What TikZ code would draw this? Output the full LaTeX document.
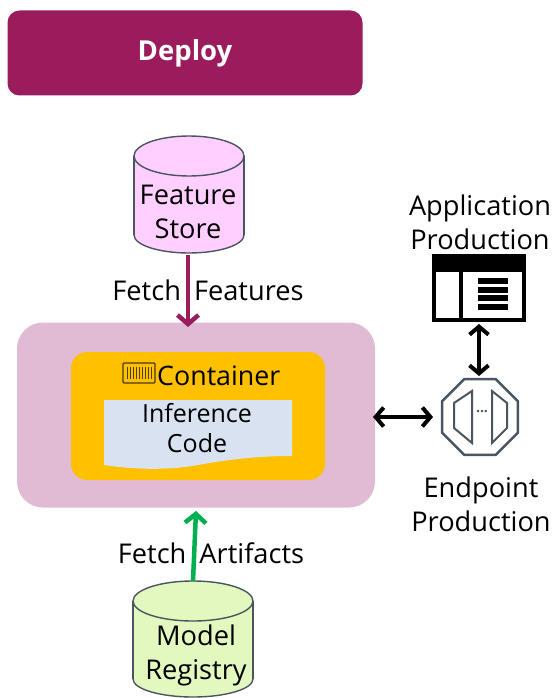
\documentclass[tikz,border=0pt]{standalone}
\usepackage{fontspec}
\setmainfont{Open Sans}
\usetikzlibrary{arrows.meta,shapes.geometric}
\definecolor{deployc}{HTML}{9B1C5C}
\definecolor{panel}{HTML}{E1BBD3}
\definecolor{amber}{HTML}{FFC000}
\definecolor{paper}{HTML}{D9E2F0}
\definecolor{pinkc}{HTML}{FFD0FF}
\definecolor{greenc}{HTML}{E2F8BE}
\definecolor{grayc}{HTML}{4A5560}
\definecolor{greena}{HTML}{00B050}
\tikzset{x=1pt,y=-1pt,
 lbl/.style={font=\fontsize{27.2}{34}\selectfont,text=black,align=center,inner sep=0pt},
 cyl/.style={draw=grayc,line width=1.4pt},
 flow/.style={line width=4.5pt,-{Straight Barb[length=9pt,width=21pt,line width=4.5pt]}},
 dbl/.style={black,line width=3.5pt,{Straight Barb[length=8pt,width=19pt,line width=4pt]}-{Straight Barb[length=8pt,width=19pt,line width=4pt]}}}
\begin{document}
\begin{tikzpicture}
\useasboundingbox (0,0) rectangle (554,698);
\fill[white] (0,0) rectangle (554,698);
\node[fill=deployc,rounded corners=12pt,minimum width=355pt,minimum height=85pt,inner sep=0pt,text=white,font=\fontsize{27.5}{30}\selectfont\bfseries] (deploy) at (185,53) {Deploy};
% feature store
\draw[cyl,fill=pinkc] (189,235) ellipse[x radius=55,y radius=18];
\fill[pinkc] (134,156) rectangle (244,235);
\draw[cyl] (134,156) -- (134,235) (244,156) -- (244,235);
\draw[cyl,fill=pinkc] (189,156) ellipse[x radius=55,y radius=20];
\node[lbl] (fs) at (188,212) {Feature\\Store};
\node[fill=panel,rounded corners=26pt,minimum width=358pt,minimum height=185pt,inner sep=0pt] (main) at (196,415) {};
\node[fill=amber,rounded corners=16pt,minimum width=254pt,minimum height=128pt,inner sep=0pt] (cont) at (198,416) {};
\fill[paper] (104,400) -- (292,400) -- (292,456) .. controls (260,456) and (230,459) .. (198,465) .. controls (165,471) and (130,469) .. (104,465) -- cycle;
\node[lbl,font=\fontsize{25}{30}\selectfont] (code) at (197,428) {Inference\\Code};
\node[lbl,anchor=west,font=\fontsize{26.8}{34}\selectfont] (conttxt) at (157,376) {Container};
\draw[black!70!amber,line width=1.2pt,rounded corners=1pt] (123,363) rectangle (155,383);
\foreach \i in {127,130,...,152}{\draw[black!70!amber,line width=.9pt] (\i,367) -- (\i,379);}
\node[lbl] (ff) at (208,290) {Fetch\hspace{6pt} Features};
\coordinate (mt) at (188,327);
\coordinate (fst) at (188,255);
\draw[flow,deployc] (fst) -- (mt);
% model registry
\draw[cyl,fill=greenc] (193,679) ellipse[x radius=60,y radius=18];
\fill[greenc] (133,601) rectangle (253,679);
\draw[cyl] (133,601) -- (133,679) (253,601) -- (253,679);
\draw[cyl,fill=greenc] (193,601) ellipse[x radius=60,y radius=20];
\node[lbl] (mr) at (196,655.5) {Model\\Registry};
\node[lbl] (fa) at (211,553) {Fetch\hspace{6pt} Artifacts};
\coordinate (mrt) at (193,581);
\coordinate (mb) at (196,511);
\draw[flow,greena] (mrt) -- (mb);
% endpoint
\node[regular polygon,regular polygon sides=8,draw=grayc,line width=2.4pt,minimum size=82pt,inner sep=0pt] (ep) at (480,417) {};
\draw[grayc,line width=2pt] (454,403) -- (472,391) -- (472,443) -- (454,428) -- cycle;
\draw[grayc,line width=2pt] (507,403) -- (492,391) -- (492,443) -- (507,428) -- cycle;
\node[font=\bfseries\fontsize{14}{14}\selectfont,text=grayc,inner sep=0pt] (dots) at (482,412) {...};
\node[lbl] (ept) at (481,504) {Endpoint\\Production};
\node[lbl] (app) at (480,222) {Application\\Production};
% app icon
\node[draw=black,line width=4pt,minimum width=90pt,minimum height=64pt,inner sep=0pt] (appi) at (479,288) {};
\fill[black] (432,254) rectangle (526,272);
\draw[black,line width=4pt] (461,272) -- (461,320);
\foreach \y in {281,289.5,298,306.5}{\draw[black,line width=6pt] (478,\y) -- (508,\y);}
\coordinate (ept1) at (479,376);
\coordinate (ept2) at (433,417);
\coordinate (mr1) at (373,417);
\coordinate (apb) at (479,324);
\draw[dbl] (apb) -- (ept1);
\draw[dbl] (mr1) -- (ept2);
\end{tikzpicture}
\end{document}
